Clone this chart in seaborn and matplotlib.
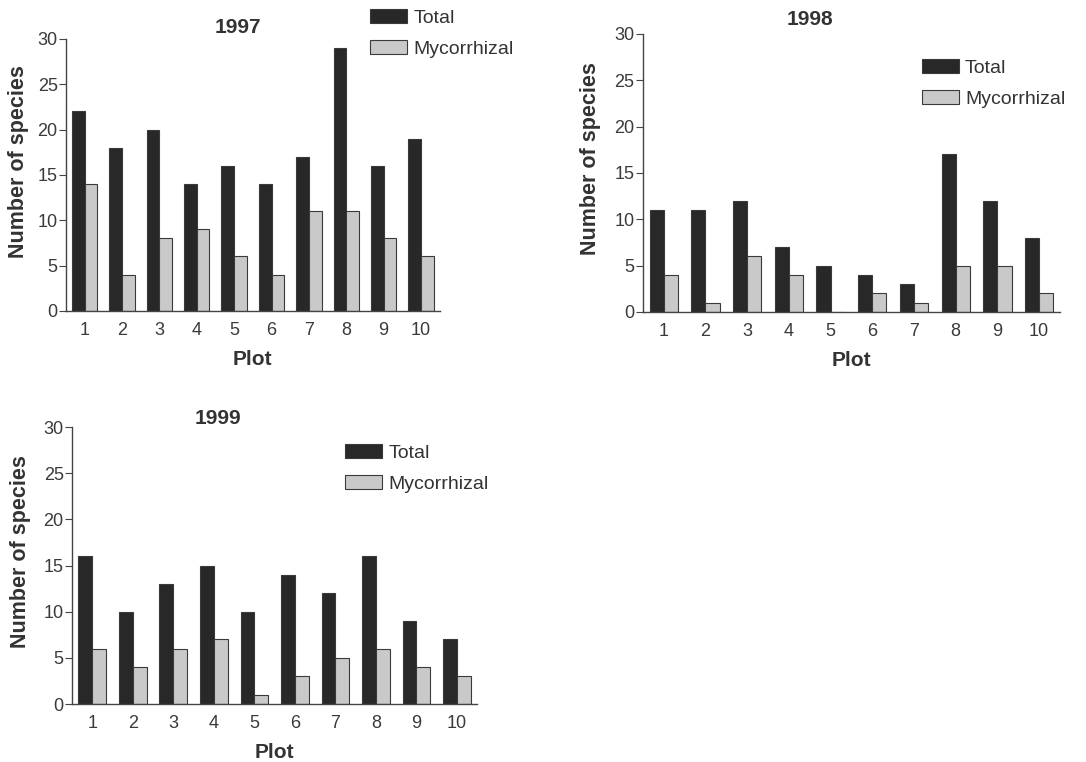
import matplotlib
matplotlib.use("Agg")
import matplotlib.pyplot as plt
import seaborn as sns
import pandas as pd

plots = [1, 2, 3, 4, 5, 6, 7, 8, 9, 10]
total_1997 = [22, 18, 20, 14, 16, 14, 17, 29, 16, 19]
myco_1997 = [14, 4, 8, 9, 6, 4, 11, 11, 8, 6]
total_1998 = [11, 11, 12, 7, 5, 4, 3, 17, 12, 8]
myco_1998 = [4, 1, 6, 4, 0, 2, 1, 5, 5, 2]
total_1999 = [16, 10, 13, 15, 10, 14, 12, 16, 9, 7]
myco_1999 = [6, 4, 6, 7, 1, 3, 5, 6, 4, 3]
series_names = ["Total", "Mycorrhizal"]
yticks = [0, 5, 10, 15, 20, 25, 30]

sns.set_theme(style="ticks")
plt.rcParams["font.family"] = ["Liberation Sans", "DejaVu Sans"]

fig = plt.figure(figsize=(10.86, 7.62), dpi=100)
fig.patch.set_facecolor("white")

# (year, total, mycorrhizal, axes rect, legend anchor, title xy)
panels = [
    ("1997", total_1997, myco_1997, [0.0608, 0.592, 0.344, 0.357], (0.815, 1.02), (0.46, 1.04)),
    ("1998", total_1998, myco_1998, [0.592, 0.5906, 0.384, 0.365], (0.67, 0.822), (0.40, 1.05)),
    ("1999", total_1999, myco_1999, [0.0663, 0.0761, 0.373, 0.3635], (0.675, 0.85), (0.36, 1.03)),
]

palette = {"Total": "#282828", "Mycorrhizal": "#c9c9c9"}
txt = "#333333"

for year, tot, myc, rect, leg_anchor, title_xy in panels:
    ax = fig.add_axes(rect)
    df = pd.DataFrame({
        "Plot": plots * 2,
        "Value": tot + myc,
        "Type": [series_names[0]] * len(plots) + [series_names[1]] * len(plots),
    })
    sns.barplot(data=df, x="Plot", y="Value", hue="Type", hue_order=series_names,
                palette=palette, width=0.68, gap=0, edgecolor="#3a3a3a",
                linewidth=0.8, saturation=1, ax=ax, legend=True)
    ax.set_xlim(-0.5, 9.5)
    ax.set_ylim(0, 30)
    ax.set_yticks(yticks)
    ax.set_yticklabels([str(t) for t in yticks])
    sns.despine(ax=ax)
    for s in ["left", "bottom"]:
        ax.spines[s].set_color("#444444")
        ax.spines[s].set_linewidth(1.0)
    ax.tick_params(axis="y", colors="#444444", labelsize=13, length=5, width=0.8, pad=1)
    ax.tick_params(axis="x", colors="#444444", labelsize=13, length=0, pad=8)
    for lbl in ax.get_xticklabels() + ax.get_yticklabels():
        lbl.set_color("#3a3a3a")
    ax.set_xlabel("Plot", fontsize=15, fontweight="bold", color=txt, labelpad=8)
    ax.set_ylabel("Number of species", fontsize=15.5, fontweight="bold", color=txt)
    ax.yaxis.set_label_coords(-0.10, 0.55)
    ax.text(title_xy[0], title_xy[1], year, transform=ax.transAxes, ha="center",
            va="center", fontsize=15, fontweight="bold", color=txt)
    leg = ax.legend(loc="center left", bbox_to_anchor=leg_anchor, frameon=False,
                    fontsize=14, handlelength=1.9, handleheight=0.75,
                    handletextpad=0.3, labelspacing=0.68, borderaxespad=0,
                    borderpad=0)
    for t in leg.get_texts():
        t.set_color(txt)

fig.savefig("out.png", dpi=100, facecolor="white")
